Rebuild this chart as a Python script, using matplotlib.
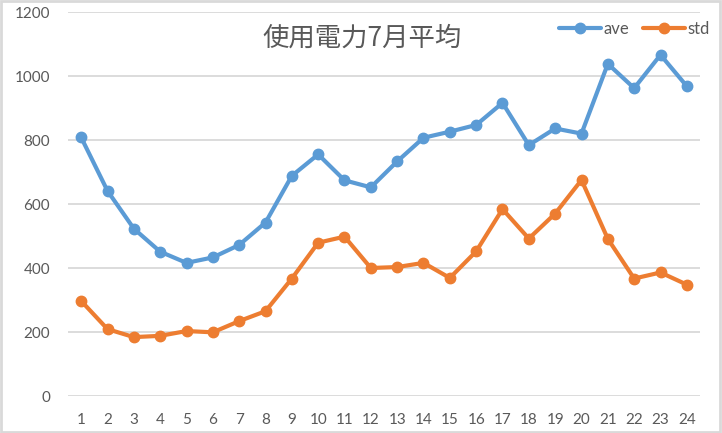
import matplotlib
matplotlib.use('Agg')
import matplotlib.pyplot as plt
from matplotlib.patches import Rectangle

# hours of the day
hours = list(range(1, 25))
# 7月の平均使用電力
ave = [808, 641, 523, 451, 416, 433, 472, 542, 688, 755, 674, 652,
       733, 807, 826, 847, 916, 784, 836, 820, 1038, 962, 1066, 968]
std = [297, 209, 184, 188, 203, 199, 234, 265, 367, 479, 498, 400,
       403, 416, 369, 452, 584, 492, 570, 675, 491, 367, 386, 348]
y_ticks = [0, 200, 400, 600, 800, 1000, 1200]
title = '使用電力7月平均'

blue = '#5B9BD5'
orange = '#ED7D31'
text_gray = '#595959'
grid_gray = '#D9D9D9'

plt.rcParams['font.family'] = ['Lato', 'Noto Sans CJK JP', 'DejaVu Sans']

fig = plt.figure(figsize=(7.22, 4.33), dpi=100)
ax = fig.add_axes([68 / 722, 1 - 396 / 433, 632 / 722, 384 / 433])

ax.plot(hours, ave, color=blue, lw=3, marker='o', ms=7.5, label='ave',
        solid_capstyle='round', zorder=3)
ax.plot(hours, std, color=orange, lw=3, marker='o', ms=7.5, label='std',
        solid_capstyle='round', zorder=3)

ax.set_xlim(0.5, 24.5)
ax.set_ylim(0, 1200)
ax.set_xticks(hours)
ax.set_yticks(y_ticks)
ax.tick_params(length=0, labelsize=11, colors=text_gray)
ax.tick_params(axis='y', pad=13)
ax.tick_params(axis='x', pad=12)
ax.grid(axis='y', color=grid_gray, lw=1.3)
ax.set_axisbelow(True)
for s in ax.spines.values():
    s.set_visible(False)

fig.text(362 / 722, 1 - 38 / 433, title, fontsize=19, color=text_gray,
         ha='center', va='center', family=['Noto Sans CJK JP', 'DejaVu Sans'])

leg = fig.legend(*ax.get_legend_handles_labels(), loc='upper right',
                 bbox_to_anchor=(0.992, 0.967), ncol=2, frameon=False,
                 fontsize=12, handlelength=2.5, handletextpad=0.15,
                 columnspacing=0.85, borderaxespad=0)
for t in leg.get_texts():
    t.set_color(text_gray)

# chart border
fig.patches.append(Rectangle((0.002, 0.002), 0.995, 0.995, transform=fig.transFigure,
                             fill=False, edgecolor=grid_gray, lw=2))

fig.savefig('out.png', dpi=100)
